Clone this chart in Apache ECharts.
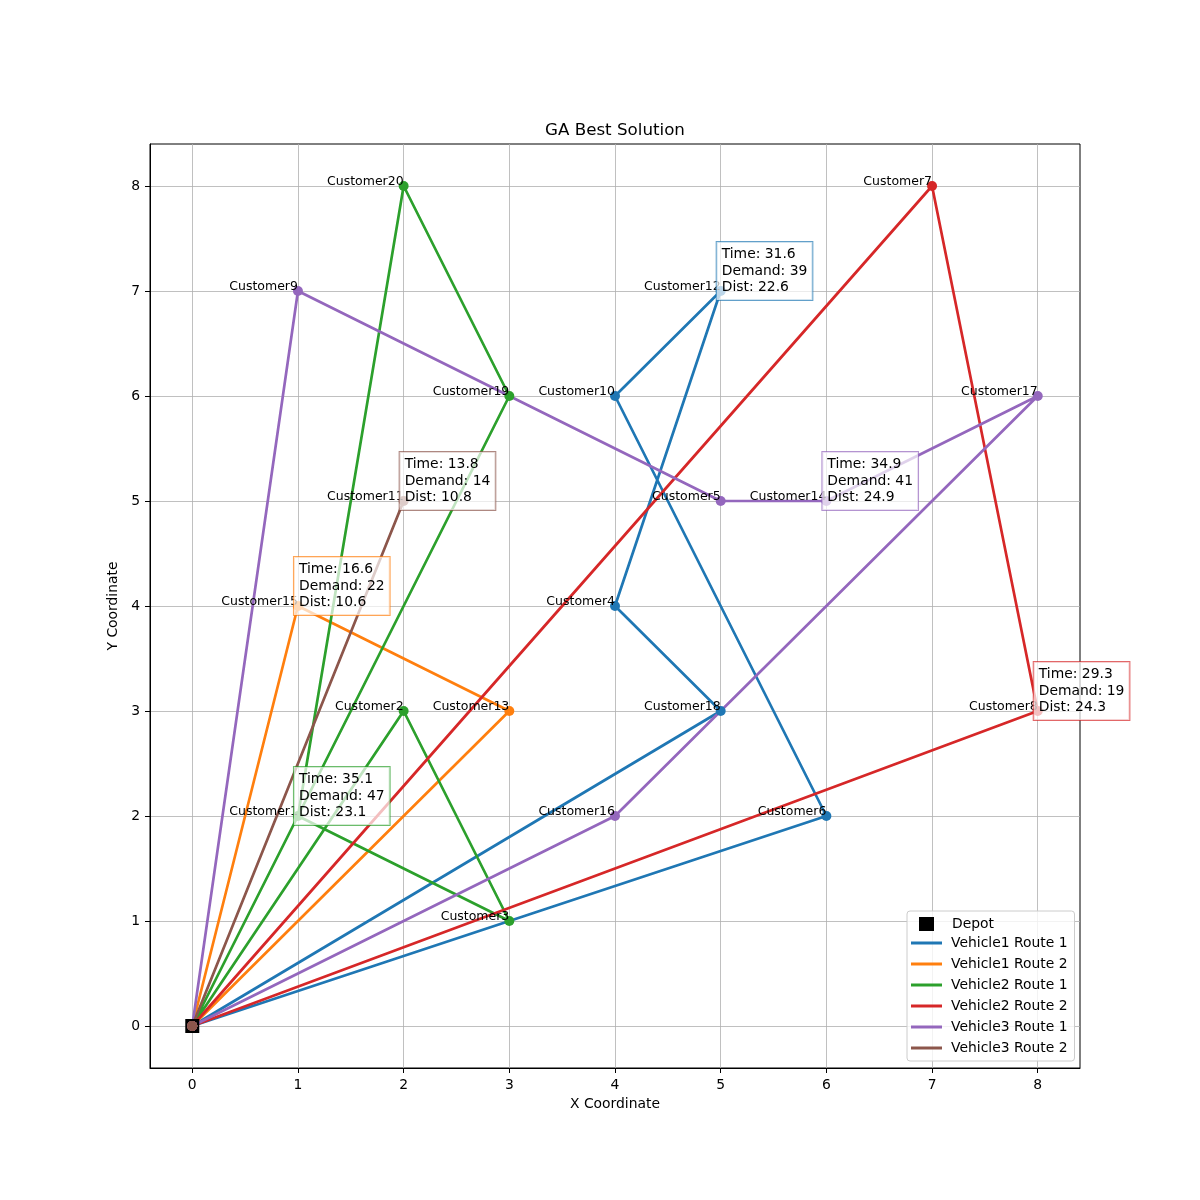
<!DOCTYPE html>
<html>
<head>
<meta charset="utf-8">
<script src="https://cdn.jsdelivr.net/npm/echarts@6/dist/echarts.min.js"></script>
<style>html,body{margin:0;padding:0;background:#fff}#c{width:1200px;height:1200px}</style>
</head>
<body>
<div id="c"></div>
<script>
// ---- data ----
const customerNames = ['Customer1','Customer2','Customer3','Customer4','Customer5','Customer6','Customer7','Customer8','Customer9','Customer10',
  'Customer11','Customer12','Customer13','Customer14','Customer15','Customer16','Customer17','Customer18','Customer19','Customer20'];
const customerX = [1,2,3,4,5,6,7,8,1,4,2,5,3,6,1,4,8,5,3,2];
const customerY = [2,3,1,4,5,2,8,3,7,6,5,7,3,5,4,2,6,3,6,8];
const depotXY = [0,0];
const routeNames = ['Vehicle1 Route 1','Vehicle1 Route 2','Vehicle2 Route 1','Vehicle2 Route 2','Vehicle3 Route 1','Vehicle3 Route 2'];
const routeStops = [[18,4,12,10,6],[13,15],[2,3,1,20,19],[7,8],[9,5,14,17,16],[11]];
const routeTime = [31.6,16.6,35.1,29.3,34.9,13.8];
const routeDemand = [39,22,47,19,41,14];
const routeDist = [22.6,10.6,23.1,24.3,24.9,10.8];
const xTicks = [0,1,2,3,4,5,6,7,8];
const yTicks = [0,1,2,3,4,5,6,7,8];

// ---- style ----
const routeColors = ['#1f77b4','#ff7f0e','#2ca02c','#d62728','#9467bd','#8c564b'];
const routeColorsA = ['rgba(31,119,180,0.7)','rgba(255,127,14,0.7)','rgba(44,160,44,0.7)','rgba(214,39,40,0.7)','rgba(148,103,189,0.7)','rgba(140,86,75,0.7)'];
const FONT = 'DejaVu Sans';

const series = [];
series.push({
  name: 'Depot', type: 'scatter', symbol: 'rect', symbolSize: 14,
  itemStyle: { color: '#000', opacity: 1 }, data: [depotXY], z: 2, silent: true
});
routeNames.forEach((rn, r) => {
  const pts = [{ value: depotXY, name: '', label: { show: false } }];
  routeStops[r].forEach(c => pts.push({ value: [customerX[c-1], customerY[c-1]], name: customerNames[c-1] }));
  pts.push({ value: depotXY, name: '', label: { show: false } });
  series.push({
    name: rn, type: 'line', data: pts, color: routeColors[r],
    lineStyle: { width: 2.7, color: routeColors[r] },
    itemStyle: { color: routeColors[r], opacity: 1 },
    symbol: 'circle', symbolSize: 10, showSymbol: true, showAllSymbol: true,
    z: 2, silent: true,
    label: {
      show: true, formatter: '{b}', position: ['50%','50%'], offset: [0, -4],
      align: 'right', verticalAlign: 'middle',
      fontFamily: FONT, fontSize: 12.5, color: '#000'
    }
  });
});
const annData = routeNames.map((rn, r) => {
  const stops = routeStops[r];
  const c = stops[Math.floor(stops.length / 2)];
  return {
    value: [customerX[c-1], customerY[c-1]],
    label: {
      formatter: 'Time: ' + routeTime[r].toFixed(1) + '\nDemand: ' + routeDemand[r] + '\nDist: ' + routeDist[r].toFixed(1),
      borderColor: routeColorsA[r]
    }
  };
});
series.push({
  name: 'annotations', type: 'scatter', data: annData, symbolSize: 1, z: 10, silent: true,
  itemStyle: { color: 'rgba(0,0,0,0)', opacity: 1 },
  label: {
    show: true, position: ['50%','50%'], offset: [-4, 9], align: 'left', verticalAlign: 'bottom',
    backgroundColor: 'rgba(255,255,255,0.7)', borderWidth: 1, padding: [4,5,4,5], opacity: 1,
    fontFamily: FONT, fontSize: 13.9, lineHeight: 16.7, color: '#000'
  }
});

const axisCommon = {
  type: 'value', min: -0.4, max: 8.4,
  axisLine: { show: true, onZero: false, lineStyle: { color: '#000', width: 1 } },
  axisTick: { show: true, length: 5, lineStyle: { color: '#000', width: 1 } },
  splitLine: { show: true, lineStyle: { color: '#b0b0b0', width: 0.8 } },
  nameLocation: 'middle',
  nameTextStyle: { fontFamily: FONT, fontSize: 13.9, color: '#000' }
};

const option = {
  animation: false,
  backgroundColor: '#fff',
  title: {
    text: 'GA Best Solution', left: 615, top: 122, textAlign: 'center', padding: 0,
    textStyle: { fontFamily: FONT, fontSize: 16.7, fontWeight: 'normal', color: '#000' }
  },
  grid: { left: 150, top: 144, right: 120, bottom: 132, show: true, borderColor: '#000', borderWidth: 1, containLabel: false },
  xAxis: Object.assign({}, axisCommon, {
    name: 'X Coordinate', nameGap: 28,
    axisTick: Object.assign({}, axisCommon.axisTick, { customValues: xTicks }),
    axisLabel: { customValues: xTicks, margin: 10, fontFamily: FONT, fontSize: 13.9, color: '#000' }
  }),
  yAxis: Object.assign({}, axisCommon, {
    name: 'Y Coordinate', nameGap: 25,
    axisTick: Object.assign({}, axisCommon.axisTick, { customValues: yTicks }),
    axisLabel: { customValues: yTicks, margin: 10, fontFamily: FONT, fontSize: 13.9, color: '#000' }
  }),
  legend: [
    {
      data: routeNames, orient: 'vertical', left: 907, top: 911,
      padding: [25, 7, 6, 4], itemGap: 7, itemWidth: 31, itemHeight: 3, icon: 'rect',
      backgroundColor: 'rgba(255,255,255,0.8)', borderColor: '#cccccc', borderWidth: 1, borderRadius: 3,
      textStyle: { fontFamily: FONT, fontSize: 13.9, lineHeight: 14, color: '#000', padding: [0,0,0,4] },
      selectedMode: false
    },
    {
      data: [{ name: 'Depot', icon: 'rect', itemStyle: { color: '#000', opacity: 1 } }], orient: 'vertical', left: 919, top: 917, padding: 0,
      itemWidth: 15, itemHeight: 14, z: 5,
      textStyle: { fontFamily: FONT, fontSize: 13.9, lineHeight: 14, color: '#000', padding: [0,0,0,13] },
      selectedMode: false
    }
  ],
  series: series
};
const chart = echarts.init(document.getElementById('c'), null, { renderer: 'canvas' });
chart.setOption(option);
</script>
</body>
</html>
